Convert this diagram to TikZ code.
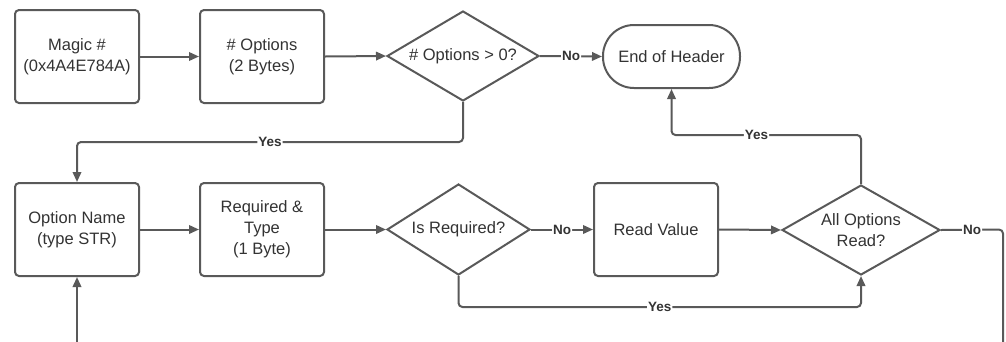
\documentclass[tikz,border=0pt]{standalone}
\usepackage{fontspec}
\setmainfont{Liberation Sans}
\usetikzlibrary{shapes.geometric,arrows.meta}
\definecolor{lineC}{HTML}{595959}
\definecolor{textC}{HTML}{333333}
\tikzset{
  box/.style={draw=lineC, line width=2pt, rounded corners=4pt, fill=white,
    minimum width=124pt, minimum height=93pt, inner sep=0pt, align=center,
    text=textC, font=\fontsize{16.5}{21}\selectfont},
  dia/.style={diamond, draw=lineC, line width=2pt, fill=white, inner sep=0pt,
    align=center, text=textC, font=\fontsize{16.5}{21}\selectfont},
  term/.style={draw=lineC, line width=2pt, rounded corners=31pt, fill=white,
    minimum width=137pt, minimum height=63pt, inner sep=0pt, align=center,
    text=textC, font=\fontsize{16.5}{21}\selectfont},
  conn/.style={draw=lineC, line width=2pt, rounded corners=4pt,
    -{Triangle[length=10pt,width=8.5pt]}},
  plain/.style={draw=lineC, line width=2pt, rounded corners=4pt},
  lbl/.style={fill=white, inner sep=1pt, text=textC,
    font=\fontsize{13.5}{15}\selectfont\bfseries}
}
\begin{document}
\begin{tikzpicture}[x=1pt,y=-1pt]
\useasboundingbox (0,0) rectangle (1006,341);
\node[box] (magic) at (77,56.5) {Magic \#\\(0x4A4E784A)};
\node[box] (opt) at (262,56.5) {\# Options\\(2 Bytes)};
\node[dia, aspect=1.69, minimum width=152pt, minimum height=90pt] (d1) at (463,56) {\# Options > 0?};
\node[term] (end) at (671.5,56.5) {End of Header};
\node[box] (onm) at (77,229.5) {Option Name\\(type STR)};
\node[box] (req) at (262,229.5) {Required \&\\Type\\(1 Byte)};
\node[dia, aspect=1.57, minimum width=143pt, minimum height=91pt] (d2) at (458.5,229.5) {Is Required?};
\node[box] (rv) at (656,229.5) {Read Value};
\node[dia, aspect=1.76, minimum width=158pt, minimum height=90pt] (d3) at (861,230) {All Options\\Read?};

\coordinate (y1) at (463,142);
\coordinate (y2) at (861,135);
\coordinate (y3) at (458.5,307);
\coordinate (n1) at (1003,229.5);
\coordinate (n2) at (1003,345);
\coordinate (n3) at (77,345);

\draw[conn] (magic.east) -- (opt.west);
\draw[conn] (opt.east) -- (d1.west);
\draw[conn] (d1.east) -- node[lbl, pos=0.5]{No} (end.west);
\draw[conn] (d1.south) -- (y1) -| node[lbl, pos=0.25]{Yes} (onm.north);
\draw[conn] (onm.east) -- (req.west);
\draw[conn] (req.east) -- (d2.west);
\draw[conn] (d2.east) -- node[lbl, pos=0.5]{No} (rv.west);
\draw[conn] (rv.east) -- (d3.west);
\draw[conn] (d3.north) -- (y2) -| node[lbl, pos=0.276]{Yes} (end.south);
\draw[conn] (d2.south) -- (y3) -| node[lbl, pos=0.25]{Yes} (d3.south);
\draw[plain] (d3.east) -- node[lbl, pos=0.5]{No} (n1) -- (n2);
\draw[conn] (n3) -- (onm.south);
\end{tikzpicture}
\end{document}
